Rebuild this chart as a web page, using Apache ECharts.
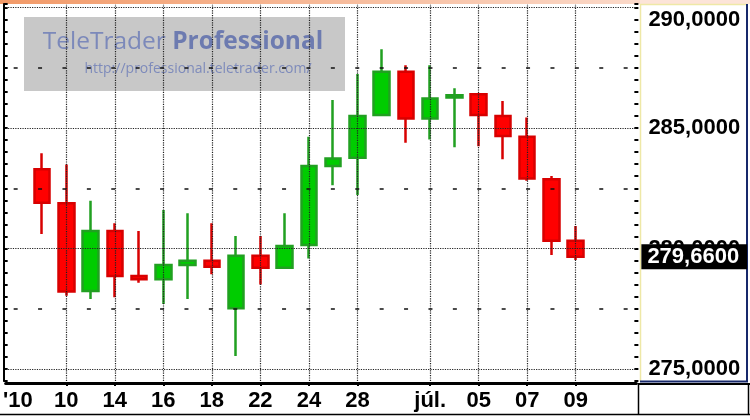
<!DOCTYPE html>
<html>
<head>
<meta charset="utf-8">
<script src="https://cdn.jsdelivr.net/npm/echarts@6/dist/echarts.min.js"></script>
<style>
html,body{margin:0;padding:0;background:#fff;}
#chart{width:750px;height:420px;}
</style>
</head>
<body>
<div id="chart"></div>
<script>
// ---- data ----
const dates = ['06-09','06-10','06-11','06-14','06-15','06-16','06-17','06-18','06-21','06-22','06-23','06-24','06-25','06-28','06-29','06-30','07-01','07-02','07-05','07-06','07-07','07-08','07-09'];
const openV  = [283.29,281.88,278.24,280.73,278.86,278.72,279.32,279.49,277.52,279.70,279.20,280.15,283.42,283.77,285.54,287.34,285.40,286.27,286.40,285.50,284.64,282.87,280.32];
const closeV = [281.90,278.22,280.73,278.86,278.72,279.32,279.49,279.24,279.70,279.20,280.10,283.42,283.74,285.50,287.34,285.40,286.23,286.36,285.54,284.67,282.91,280.32,279.66];
const lowV   = [280.60,278.04,277.90,277.98,278.58,277.70,277.90,278.93,275.54,278.51,279.18,279.59,282.63,282.22,285.54,284.39,284.53,284.20,284.25,283.71,282.81,279.73,279.52];
const highV  = [283.95,283.49,281.98,281.05,280.73,281.60,281.46,281.05,280.52,280.52,281.46,284.64,286.16,287.24,288.27,287.61,287.61,286.65,286.44,286.12,285.44,283.01,280.93];
const labeledDates = ['06-10','06-14','06-16','06-18','06-22','06-24','06-28','07-01','07-05','07-07','07-09'];
const labelTexts   = ['10','14','16','18','22','24','28','júl.','05','07','09'];
const yearLabel = "'10";
const yTickValues = [275,280,285,290];
const yDashValues = [277.5,282.5,287.5];
const lastPrice = 279.66;

// ---- build ----
const cats = ['pre'].concat(dates, ['post1','post2']);
const candles = dates.map((d,i)=>[d, openV[i], closeV[i], lowV[i], highV[i]]);
const fmt = v => v.toFixed(4).replace('.', ',');
const isLabeled = (val) => val === 'pre' || labeledDates.indexOf(val) >= 0;
const font = 'Liberation Sans, Arial, sans-serif';

const chart = echarts.init(document.getElementById('chart'), null, {renderer:'canvas'});
const W = 24.38;
chart.setOption({
  animation:false,
  backgroundColor:'#ffffff',
  grid:{left:2.5, top:4, width:W*26, height:377},
  xAxis:{
    type:'category', data:cats, boundaryGap:true, offset:2,
    axisLine:{show:true, lineStyle:{color:'#000', width:3}},
    axisTick:{show:true, alignWithLabel:true, length:3, interval:(i,v)=>labeledDates.indexOf(v)>=0, lineStyle:{color:'#000', width:2}},
    axisLabel:{interval:(i,v)=>isLabeled(v), margin:7, color:'#000', fontFamily:font, fontWeight:'bold', fontSize:22,
      formatter:(v)=> v==='pre' ? yearLabel : (labeledDates.indexOf(v)>=0 ? labelTexts[labeledDates.indexOf(v)] : '')},
    splitLine:{show:false}
  },
  yAxis:[
    {type:'value', position:'right', min:274.5, max:290.15, interval:0.5, offset:2, scale:true,
     axisLine:{show:false},
     axisTick:{show:true, inside:true, length:4, lineStyle:{color:'#000', width:2}},
     axisLabel:{show:true, margin:10, color:'#000', fontFamily:font, fontWeight:'bold', fontSize:22,
       formatter:(v)=>{
         if (yTickValues.indexOf(Math.round(v*1000)/1000) < 0) return '';
         if (v === 290) return '{t|' + fmt(v) + '}';
         return fmt(v);
       },
       rich:{t:{fontFamily:font, fontWeight:'bold', fontSize:22, color:'#000', padding:[25,0,0,0]}}
     },
     splitLine:{show:false}},
    {type:'value', position:'left', min:274.5, max:290.15, interval:0.5, offset:2,
     axisLine:{show:true, lineStyle:{color:'#000', width:2}},
     axisTick:{show:true, inside:true, length:4, lineStyle:{color:'#000', width:2}},
     axisLabel:{show:false}, splitLine:{show:false}}
  ],
  graphic:[
    {type:'rect', z:0, shape:{x:0,y:0,width:640,height:4}, style:{fill:new echarts.graphic.LinearGradient(0,0,1,0,[{offset:0,color:'#f29a68'},{offset:1,color:'#fbd9c9'}])}},
    {type:'rect', z:0, shape:{x:640,y:0,width:110,height:4}, style:{fill:'#fce4d8'}},
    {type:'rect', z:0, shape:{x:24,y:17,width:321,height:74}, style:{fill:'#c8c8c8'}},
    {type:'text', z:0, x:183, y:42, style:{text:'{a|TeleTrader }{b|Professional}', align:'center', verticalAlign:'middle',
       rich:{a:{fontFamily:'Open Sans', fontSize:24.5, fill:'#7c89ba'}, b:{fontFamily:'Open Sans', fontSize:24.5, fontWeight:'bold', fill:'#6d7bb0'}}}},
    {type:'text', z:0, x:198, y:69, style:{text:'http://professional.teletrader.com/', align:'center', verticalAlign:'middle', fontFamily:'Open Sans', fontSize:14, fill:'#7e8bbb'}},
    // right panel borders
    {type:'line', z:5, shape:{x1:640.5,y1:4,x2:640.5,y2:382}, style:{stroke:'#eee8a6', lineWidth:1.5}},
    {type:'line', z:5, shape:{x1:640,y1:4.5,x2:748,y2:4.5}, style:{stroke:'#eee8a6', lineWidth:1.5}},
    {type:'line', z:5, shape:{x1:747,y1:4,x2:747,y2:382}, style:{stroke:'#17286b', lineWidth:2}},
    {type:'line', z:5, shape:{x1:640,y1:381.5,x2:748,y2:381.5}, style:{stroke:'#17286b', lineWidth:2}},
    // label row frame
    {type:'line', z:5, shape:{x1:0,y1:414.5,x2:750,y2:414.5}, style:{stroke:'#000', lineWidth:1.5}},
    {type:'line', z:5, shape:{x1:638.5,y1:383,x2:638.5,y2:415}, style:{stroke:'#000', lineWidth:1.5}},
    {type:'line', z:5, shape:{x1:638,y1:384,x2:750,y2:384}, style:{stroke:'#000', lineWidth:2}},
    {type:'line', z:5, shape:{x1:748.5,y1:383,x2:748.5,y2:415}, style:{stroke:'#000', lineWidth:1.5}}
  ],
  series:[
    {type:'line', data:[], z:1, silent:true,
     markLine:{silent:true, symbol:['none','none'], label:{show:false}, animation:false,
       data: yTickValues.map(v=>({yAxis:v, lineStyle:{type:'dotted', color:'#222', width:1.2}}))
         .concat(yDashValues.map(v=>({yAxis:v, lineStyle:{type:[4,20.4], dashOffset:-8, color:'#111', width:1.5}})))
         .concat(labeledDates.map(d=>({xAxis:d, lineStyle:{type:'dotted', color:'#222', width:1.2}})))
     }},
    {type:'candlestick', z:3, data:candles, encode:{x:0, y:[1,2,3,4]}, barWidth:16,
     itemStyle:{color:'#00cc00', color0:'#ff0000', borderColor:'#21a021', borderColor0:'#d80000', borderWidth:2.5},
     markLine:{silent:true, symbol:['none','none'], animation:false,
       lineStyle:{color:'rgba(0,0,0,0)', width:0},
       label:{show:true, position:'end', distance:5, formatter:()=>fmt(lastPrice), backgroundColor:'#000', color:'#fff',
         fontFamily:font, fontWeight:'bold', fontSize:22, padding:[2,8,1,6]},
       data:[{yAxis:lastPrice}]}}
  ]
});
</script>
</body>
</html>
